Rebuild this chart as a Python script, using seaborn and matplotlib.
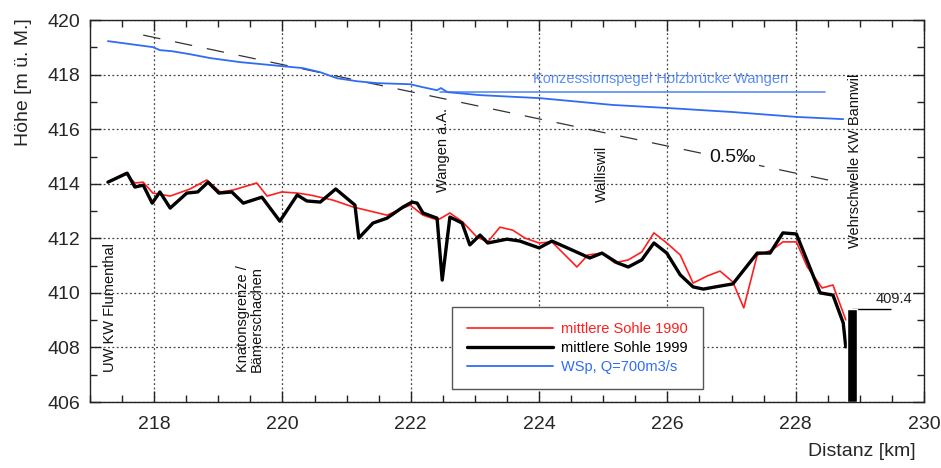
import matplotlib
matplotlib.use("Agg")
import matplotlib.pyplot as plt
from matplotlib.ticker import MultipleLocator
import seaborn as sns
import pandas as pd

# ---- data ----
km_1999 = [217.28, 217.58, 217.70, 217.83, 217.97, 218.09, 218.25, 218.51, 218.68, 218.84,
           219.01, 219.21, 219.39, 219.68, 219.96, 220.23, 220.38, 220.59, 220.83, 221.13,
           221.19, 221.41, 221.63, 221.88, 222.02, 222.10, 222.19, 222.41, 222.49, 222.61,
           222.80, 222.92, 223.08, 223.20, 223.50, 223.70, 224.00, 224.20, 224.44, 224.79,
           224.98, 225.22, 225.39, 225.60, 225.79, 225.99, 226.20, 226.40, 226.56, 226.82,
           227.02, 227.40, 227.60, 227.80, 228.01, 228.38, 228.58, 228.74, 228.78]
sohle_1999 = [414.06, 414.39, 413.88, 413.95, 413.29, 413.70, 413.11, 413.66, 413.70, 414.06,
              413.66, 413.70, 413.29, 413.51, 412.63, 413.59, 413.37, 413.33, 413.81, 413.22,
              412.01, 412.56, 412.74, 413.15, 413.33, 413.29, 412.93, 412.74, 410.47, 412.78,
              412.56, 411.76, 412.12, 411.83, 411.97, 411.90, 411.65, 411.90, 411.65, 411.28,
              411.46, 411.10, 410.95, 411.21, 411.83, 411.46, 410.66, 410.22, 410.14, 410.25,
              410.33, 411.46, 411.46, 412.20, 412.16, 410.00, 409.92, 408.90, 408.02]

km_1990 = [217.28, 217.55, 217.70, 217.83, 217.98, 218.25, 218.56, 218.82, 219.03, 219.23,
           219.60, 219.76, 219.99, 220.23, 220.43, 220.79, 221.10, 221.63, 221.99, 222.19,
           222.42, 222.61, 222.81, 223.03, 223.20, 223.39, 223.59, 223.78, 224.00, 224.20,
           224.59, 224.76, 224.98, 225.18, 225.39, 225.60, 225.79, 225.99, 226.20, 226.40,
           226.62, 226.82, 227.02, 227.19, 227.40, 227.63, 227.80, 228.01, 228.18, 228.41,
           228.58, 228.78]
sohle_1990 = [414.06, 414.39, 414.03, 414.06, 413.66, 413.55, 413.81, 414.14, 413.70, 413.77,
              414.03, 413.55, 413.70, 413.66, 413.59, 413.40, 413.15, 412.85, 413.22, 412.85,
              412.67, 412.93, 412.60, 412.05, 411.87, 412.41, 412.30, 412.01, 411.83, 411.87,
              410.95, 411.39, 411.46, 411.10, 411.21, 411.50, 412.20, 411.83, 411.39, 410.36,
              410.62, 410.80, 410.40, 409.45, 411.39, 411.57, 411.87, 411.87, 410.95, 410.18,
              410.29, 409.01]

km_wsp = [217.28, 217.98, 218.09, 218.28, 218.56, 218.87, 219.34, 220.01, 220.32, 220.59,
          220.85, 221.16, 221.47, 221.99, 222.19, 222.41, 222.47, 222.57, 223.08, 224.01,
          225.15, 225.99, 227.02, 228.02, 228.74]
wsp_700 = [419.23, 419.01, 418.90, 418.86, 418.75, 418.61, 418.46, 418.31, 418.24, 418.09,
           417.87, 417.76, 417.69, 417.65, 417.54, 417.43, 417.51, 417.36, 417.25, 417.14,
           416.89, 416.78, 416.63, 416.45, 416.37]

km_konz = [222.45, 228.46]
konz_pegel = [417.36, 417.36]

km_gefaelle = [217.83, 228.58]
gefaelle = [419.45, 414.10]

wehr_km = [228.88]
wehr_top = [409.4]
base = 406.0

labels = ["mittlere Sohle 1990", "mittlere Sohle 1999", "WSp, Q=700m3/s"]

# ---- style ----
sns.set_style("ticks")
plt.rcParams["font.family"] = ["Liberation Sans", "DejaVu Sans"]

fig, ax = plt.subplots(figsize=(9.41, 4.68), dpi=100)
fig.subplots_adjust(left=0.0956, right=0.982, top=0.957, bottom=0.141)

red = "#ff1f1f"
blue = "#2f6cf5"
lblue = "#5b8df7"

df90 = pd.DataFrame({"km": km_1990, "h": sohle_1990})
df99 = pd.DataFrame({"km": km_1999, "h": sohle_1999})
dfw = pd.DataFrame({"km": km_wsp, "h": wsp_700})
dfk = pd.DataFrame({"km": km_konz, "h": konz_pegel})
dfg = pd.DataFrame({"km": km_gefaelle, "h": gefaelle})

sns.lineplot(data=dfg, x="km", y="h", ax=ax, color="#333333", lw=0.9,
             sort=False, estimator=None, legend=False)
ax.lines[-1].set_dashes([14, 12])
sns.lineplot(data=dfk, x="km", y="h", ax=ax, color=lblue, lw=1.2,
             sort=False, estimator=None, legend=False)
sns.lineplot(data=dfw, x="km", y="h", ax=ax, color=blue, lw=1.3,
             sort=False, estimator=None, legend=False)
l_wsp = ax.lines[-1]
sns.lineplot(data=df90, x="km", y="h", ax=ax, color=red, lw=1.2,
             sort=False, estimator=None, legend=False)
l_90 = ax.lines[-1]
sns.lineplot(data=df99, x="km", y="h", ax=ax, color="black", lw=2.4,
             sort=False, estimator=None, legend=False)
l_99 = ax.lines[-1]

ax.bar(wehr_km, [t - base for t in wehr_top], bottom=base, width=0.16,
       color="black", zorder=3)
ax.hlines(wehr_top, wehr_km[0], wehr_km[0] + 0.6, color="black", lw=1)
ax.text(wehr_km[0] + 0.36, wehr_top[0] + 0.12, "409.4", ha="left", va="bottom",
        fontsize=10.5, color="#222222")

ax.set_xlim(217.0, 230.0)
ax.set_ylim(406, 420)
ax.xaxis.set_major_locator(MultipleLocator(2))
ax.xaxis.set_minor_locator(MultipleLocator(0.5))
ax.yaxis.set_major_locator(MultipleLocator(2))
ax.yaxis.set_minor_locator(MultipleLocator(1))
ax.tick_params(which="both", direction="in", top=True, right=True, labelsize=14,
               color="#222222", width=1)
ax.tick_params(which="major", length=8)
ax.tick_params(axis="x", which="major", pad=10)
ax.tick_params(axis="y", which="major", pad=7)
ax.tick_params(which="minor", length=5)
ax.grid(True, which="major", linestyle=(0, (1.5, 2)), color="#444444", lw=0.9)
for s in ax.spines.values():
    s.set_color("#222222")
    s.set_linewidth(1)

ax.set_xlabel("")
ax.set_ylabel("Höhe [m ü. M.]", fontsize=14)
ax.yaxis.set_label_coords(-0.07, 0.838)
fig.text(0.973, 0.018, "Distanz [km]", ha="right", va="bottom", fontsize=14)

# annotations
ann = dict(rotation=90, ha="center", va="bottom", fontsize=10.5, color="#111111")
ax.text(217.31, 407.1, "UW KW Flumenthal", **ann)
ax.text(219.49, 407.1, "Knatonsgrenze /\nBämerschachen", multialignment="left",
        linespacing=1.0, **ann)
ax.text(222.50, 413.70, "Wangen a.A.", **ann)
ax.text(224.98, 413.33, "Walliswil", **ann)
ax.text(228.93, 411.65, "Wehrschwelle KW Bannwil", **ann)
ax.text(225.89, 417.84, "Konzessionspegel Holzbrücke Wangen", ha="center", va="center",
        fontsize=10.5, color=lblue)
ax.text(227.02, 414.98, "0.5‰", ha="center", va="center", fontsize=14, color="#111111",
        bbox=dict(facecolor="white", edgecolor="none", pad=2))

leg = ax.legend([l_90, l_99, l_wsp], labels, loc="lower left",
                bbox_to_anchor=(0.434, 0.034), fontsize=10.5, frameon=True,
                fancybox=False, framealpha=1, edgecolor="#555555",
                handlelength=5.9, handletextpad=0.6, labelspacing=0.37,
                borderpad=1.0, borderaxespad=0)
leg.get_frame().set_linewidth(1)
for t, c in zip(leg.get_texts(), [red, "black", blue]):
    t.set_color(c)

fig.savefig("out.png", dpi=100)
